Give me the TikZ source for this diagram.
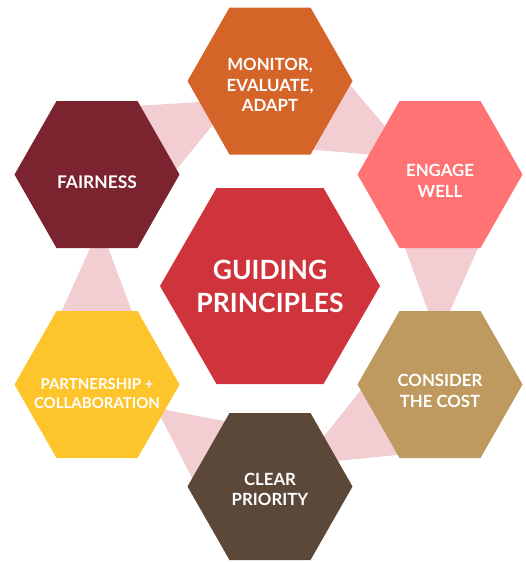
\documentclass[tikz,border=0pt]{standalone}
\usepackage{fontspec}
\setmainfont{Lato}
\usetikzlibrary{calc}
\definecolor{bandc}{HTML}{F2CED2}
\definecolor{cmon}{HTML}{D46428}
\definecolor{ceng}{HTML}{FF7375}
\definecolor{cfair}{HTML}{7B2430}
\definecolor{cguide}{HTML}{CF343D}
\definecolor{ccons}{HTML}{BE9A61}
\definecolor{cclear}{HTML}{5C4839}
\definecolor{cpart}{HTML}{FDC52B}
\newcommand\hexag[5]{\fill[#5] ($(#1)+(-#2,0)$) -- ($(#1)+(-#3,-#4)$) -- ($(#1)+(#3,-#4)$) -- ($(#1)+(#2,0)$) -- ($(#1)+(#3,#4)$) -- ($(#1)+(-#3,#4)$) -- cycle;}
\begin{document}
\begin{tikzpicture}[x=1pt,y=-1pt,
  lbl/.style={text=white,font=\bfseries\fontsize{16.8}{20.7}\selectfont,align=center,inner sep=0pt},
  band/.style={fill=bandc}]
\useasboundingbox (0,0) rectangle (525,562);
\coordinate (F) at (97,174.5);
\coordinate (M) at (270,81);
\coordinate (E) at (440,174.5);
\coordinate (C) at (440,384.5);
\coordinate (P) at (270,486.5);
\coordinate (Y) at (97,384.5);
\coordinate (G) at (270,286);
% bands
\fill[band] ($(M)+(-37,19)$) -- ($(F)+(13,-67)$) -- ($(F)+(53,27.5)$) -- cycle;
\fill[band] ($(E)+(-28,-16.5)$) -- ($(M)+(50,-31.4)$) -- ($(M)+(10,66)$) -- cycle;
\fill[band] ($(C)+(-2,-46.5)$) -- ($(E)+(-49,35.5)$) -- ($(E)+(55,35.5)$) -- cycle;
\fill[band] ($(P)+(31.5,-22)$) -- ($(C)+(-45,-37.5)$) -- ($(C)+(-10,67.2)$) -- cycle;
\fill[band] ($(Y)+(59,23.5)$) -- ($(P)+(30,-51)$) -- ($(P)+(-50,45.5)$) -- cycle;
\fill[band] ($(F)+(3,51.5)$) -- ($(Y)+(-48.3,-44.5)$) -- ($(Y)+(45.6,-44.5)$) -- cycle;
% hexagons
\hexag{M}{82.5}{40.5}{73.5}{cmon}
\hexag{F}{82.5}{40.5}{73.5}{cfair}
\hexag{E}{82.5}{40.5}{73.5}{ceng}
\hexag{C}{82.5}{40.5}{73.5}{ccons}
\hexag{P}{82.5}{40.5}{73.5}{cclear}
\hexag{Y}{82.5}{40.5}{73.5}{cpart}
\hexag{G}{110}{53.5}{98}{cguide}
% labels
\node[lbl] (tM) at ($(M)+(0,4)$) {MONITOR,\\EVALUATE,\\ADAPT};
\node[lbl,font=\bfseries\fontsize{17.4}{20.7}\selectfont] (tF) at ($(F)+(0,7.5)$) {FAIRNESS};
\node[lbl] (tE) at ($(E)+(0,6.5)$) {ENGAGE\\WELL};
\node[lbl,font=\bfseries\fontsize{26.5}{33}\selectfont] (tG) at (G) {GUIDING\\PRINCIPLES};
\node[lbl,font=\bfseries\fontsize{15}{18.7}\selectfont] (tY) at ($(Y)+(0,9)$) {PARTNERSHIP +\\COLLABORATION};
\node[lbl] (tC) at ($(C)+(0,6.5)$) {CONSIDER\\THE COST};
\node[lbl] (tP) at ($(P)+(0,3)$) {CLEAR\\PRIORITY};
\end{tikzpicture}
\end{document}
